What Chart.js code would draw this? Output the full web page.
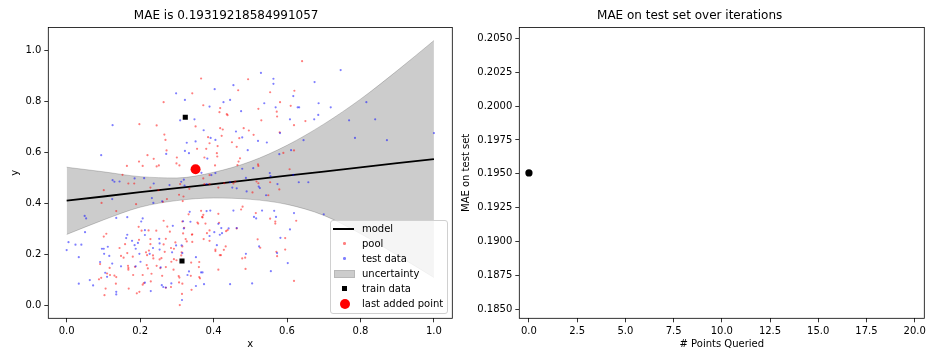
<!DOCTYPE html>
<html>
<head>
<meta charset="utf-8">
<script src="https://cdn.jsdelivr.net/npm/chart.js@4.4.1/dist/chart.umd.min.js"></script>
<style>
    html, body { margin: 0; padding: 0; background: #fff; }
    #wrap { position: relative; width: 936px; height: 360px; overflow: hidden; }
    canvas { position: absolute; top: 0; }
    #leftChart { left: 0; }
    #rightChart { left: 455px; }
    #legend {
        position: absolute; left: 330px; top: 220px; width: 116px; height: 92px;
        background: rgba(255, 255, 255, 0.8); border: 1px solid #d0d0d0; border-radius: 3px;
        font: 10px "DejaVu Sans", sans-serif; color: #000;
    }
    #legend .row { position: absolute; left: 0; height: 15px; width: 116px; line-height: 15px; }
    #legend .row span.txt { position: absolute; left: 31px; top: 0; white-space: nowrap; }
    #legend .h { position: absolute; }
</style>
</head>
<body>
<div id="wrap">
    <canvas id="leftChart" width="468" height="360"></canvas>
    <canvas id="rightChart" width="481" height="360"></canvas>
    <div id="legend"></div>
</div>
<script>
const FONT = '"DejaVu Sans", sans-serif';

// left panel: GP model on x in [0, 1]
const gridX = [0, 0.1, 0.2, 0.3, 0.4, 0.5, 0.6, 0.7, 0.8, 0.9, 1.0];
const modelY = [0.410, 0.426, 0.443, 0.459, 0.475, 0.491, 0.508, 0.524, 0.540, 0.557, 0.573];
const bandUpper = [0.541, 0.523, 0.504, 0.499, 0.521, 0.563, 0.627, 0.710, 0.808, 0.920, 1.038];
const bandLower = [0.277, 0.334, 0.384, 0.410, 0.420, 0.415, 0.395, 0.352, 0.280, 0.196, 0.108];

const poolXY = [
    [0.641,0.957],[0.366,0.889],[0.494,0.886],[0.467,0.843],[0.342,0.831],[0.554,0.835],[0.620,0.841],[0.264,0.796],
    [0.372,0.784],[0.581,0.796],[0.610,0.782],[0.522,0.770],[0.418,0.773],[0.436,0.749],[0.438,0.745],[0.416,0.757],
    [0.572,0.759],[0.573,0.740],[0.650,0.722],[0.619,0.706],[0.530,0.725],[0.198,0.710],[0.245,0.705],[0.351,0.701],
    [0.418,0.694],[0.482,0.694],[0.496,0.685],[0.580,0.678],[0.425,0.689],[0.266,0.669],[0.269,0.648],[0.385,0.659],
    [0.422,0.664],[0.470,0.655],[0.509,0.668],[0.389,0.635],[0.450,0.639],[0.463,0.621],[0.411,0.624],[0.409,0.596],
    [0.380,0.613],[0.355,0.613],[0.272,0.607],[0.220,0.588],[0.197,0.563],[0.207,0.546],[0.237,0.574],[0.245,0.544],
    [0.251,0.548],[0.300,0.579],[0.375,0.579],[0.410,0.583],[0.472,0.576],[0.590,0.597],[0.619,0.607],[0.164,0.546],
    [0.152,0.511],[0.299,0.556],[0.307,0.548],[0.404,0.548],[0.465,0.549],[0.468,0.563],[0.521,0.552],
    [0.168,0.477],[0.184,0.477],[0.101,0.451],[0.095,0.401],[0.135,0.369],[0.189,0.396],[0.228,0.461],[0.250,0.451],
    [0.306,0.433],[0.309,0.475],[0.334,0.456],[0.316,0.408],[0.318,0.426],[0.273,0.416],[0.262,0.405],[0.372,0.497],
    [0.389,0.510],[0.389,0.475],[0.375,0.475],[0.413,0.461],[0.429,0.478],[0.454,0.477],[0.459,0.485],[0.506,0.442],
    [0.517,0.485],[0.522,0.478],[0.554,0.482],[0.549,0.431],[0.522,0.546],[0.579,0.454],[0.607,0.533],[0.625,0.331],
    [0.091,0.161],[0.101,0.269],[0.108,0.280],[0.106,0.065],[0.103,0.039],[0.110,0.124],[0.117,0.146],[0.130,0.116],
    [0.135,0.110],[0.118,0.118],[0.134,0.084],[0.088,0.101],[0.094,0.107],[0.144,0.224],[0.148,0.193],[0.155,0.186],
    [0.159,0.239],[0.165,0.204],[0.167,0.154],[0.168,0.146],[0.168,0.139],[0.169,0.065],[0.181,0.118],[0.180,0.190],
    [0.186,0.150],[0.191,0.046],[0.198,0.052],[0.197,0.256],[0.196,0.307],[0.204,0.292],[0.207,0.118],[0.207,0.080],
    [0.210,0.086],[0.216,0.207],[0.219,0.196],[0.223,0.293],[0.218,0.157],[0.221,0.144],[0.224,0.214],[0.228,0.259],
    [0.228,0.239],[0.229,0.093],[0.231,0.123],[0.235,0.195],[0.236,0.183],[0.244,0.292],[0.245,0.154],[0.253,0.179],
    [0.255,0.145],[0.258,0.184],[0.260,0.115],[0.264,0.331],[0.264,0.238],[0.267,0.209],[0.270,0.260],[0.270,0.149],
    [0.270,0.068],[0.274,0.308],[0.281,0.288],[0.284,0.224],[0.285,0.170],[0.284,0.071],[0.291,0.139],[0.292,0.180],
    [0.292,0.221],[0.296,0.246],[0.299,0.176],[0.305,0.114],[0.307,0.108],[0.306,0.089],[0.312,0.195],[0.313,0.207],
    [0.315,0.230],[0.315,0.328],[0.320,0.303],[0.314,0.044],[0.315,0.084],[0.317,0.281],[0.324,0.259],[0.327,0.250],
    [0.308,0.000],[0.338,0.115],[0.340,0.060],[0.332,0.356],[0.341,0.276],[0.342,0.278],[0.342,0.248],[0.339,0.167],
    [0.356,0.324],[0.358,0.320],[0.360,0.149],[0.361,0.169],[0.361,0.110],[0.363,0.105],[0.366,0.370],[0.369,0.346],
    [0.372,0.354],[0.373,0.259],[0.370,0.344],[0.378,0.320],[0.382,0.282],[0.389,0.293],[0.389,0.252],[0.405,0.218],
    [0.405,0.212],[0.413,0.358],[0.415,0.323],[0.417,0.196],[0.420,0.196],[0.413,0.139],[0.428,0.217],[0.433,0.230],
    [0.434,0.290],[0.438,0.294],[0.463,0.301],[0.478,0.183],[0.487,0.142],[0.486,0.186],[0.475,0.375],[0.479,0.386],
    [0.515,0.361],[0.520,0.258],[0.527,0.225],[0.568,0.328],[0.568,0.320],[0.571,0.209],[0.573,0.192],[0.595,0.263],
    [0.595,0.218],[0.619,0.095],[0.554,0.339]
];

const testXY = [
    [0.746,0.922],[0.529,0.911],[0.563,0.888],[0.563,0.868],[0.675,0.875],[0.454,0.863],[0.403,0.847],[0.298,0.831],
    [0.617,0.820],[0.322,0.805],[0.445,0.805],[0.427,0.796],[0.389,0.779],[0.538,0.792],[0.629,0.776],[0.633,0.776],
    [0.686,0.792],[0.719,0.776],[0.816,0.796],[0.569,0.776],[0.475,0.761],[0.309,0.725],[0.348,0.729],[0.674,0.729],
    [0.840,0.729],[0.685,0.746],[0.608,0.729],[0.769,0.725],[0.125,0.706],[0.373,0.686],[0.581,0.675],[0.461,0.681],
    [1.000,0.675],[0.785,0.656],[0.872,0.647],[0.645,0.647],[0.392,0.656],[0.405,0.648],[0.478,0.658],[0.521,0.644],
    [0.545,0.638],[0.327,0.637],[0.351,0.642],[0.493,0.608],[0.322,0.605],[0.333,0.596],[0.271,0.593],[0.094,0.588],
    [0.383,0.575],[0.579,0.592],[0.611,0.608],
    [0.125,0.490],[0.130,0.484],[0.144,0.485],[0.185,0.497],[0.211,0.498],[0.124,0.416],[0.237,0.477],[0.280,0.471],
    [0.319,0.492],[0.321,0.469],[0.312,0.484],[0.232,0.420],[0.236,0.401],[0.260,0.407],[0.367,0.519],[0.405,0.518],
    [0.394,0.510],[0.381,0.475],[0.445,0.482],[0.478,0.535],[0.488,0.499],[0.508,0.537],[0.451,0.461],[0.463,0.458],
    [0.490,0.446],[0.523,0.465],[0.526,0.459],[0.543,0.431],[0.574,0.475],[0.553,0.518],[0.555,0.506],[0.632,0.482],
    [0.617,0.511],[0.658,0.482],[0.700,0.356],
    [0.000,0.216],[0.005,0.247],[0.024,0.237],[0.040,0.237],[0.033,0.188],[0.033,0.084],[0.050,0.286],[0.049,0.350],
    [0.053,0.340],[0.063,0.098],[0.072,0.077],[0.091,0.169],[0.096,0.221],[0.101,0.221],[0.102,0.201],[0.105,0.127],
    [0.110,0.111],[0.112,0.229],[0.116,0.193],[0.124,0.163],[0.135,0.052],[0.135,0.042],[0.135,0.342],[0.148,0.152],
    [0.162,0.263],[0.165,0.276],[0.165,0.345],[0.178,0.252],[0.185,0.235],[0.188,0.221],[0.188,0.152],[0.194,0.244],
    [0.198,0.201],[0.201,0.170],[0.203,0.328],[0.207,0.340],[0.213,0.294],[0.213,0.088],[0.213,0.275],[0.226,0.201],
    [0.235,0.224],[0.229,0.055],[0.252,0.260],[0.253,0.242],[0.253,0.218],[0.256,0.148],[0.259,0.078],[0.263,0.071],
    [0.270,0.069],[0.289,0.311],[0.287,0.207],[0.285,0.085],[0.298,0.234],[0.313,0.234],[0.315,0.204],[0.317,0.329],
    [0.319,0.301],[0.314,0.020],[0.333,0.132],[0.329,0.118],[0.335,0.366],[0.337,0.327],[0.352,0.188],[0.366,0.128],
    [0.370,0.128],[0.352,0.075],[0.374,0.082],[0.381,0.369],[0.389,0.271],[0.391,0.371],[0.402,0.286],[0.409,0.235],
    [0.413,0.319],[0.421,0.302],[0.423,0.282],[0.417,0.276],[0.441,0.301],[0.445,0.082],[0.454,0.371],[0.463,0.302],
    [0.488,0.201],[0.510,0.346],[0.516,0.340],[0.505,0.085],[0.524,0.230],[0.532,0.371],[0.565,0.370],[0.570,0.346],
    [0.573,0.204],[0.582,0.264],[0.602,0.165],[0.608,0.297],[0.619,0.361],[0.556,0.133]
];

const trainXY = [[0.323, 0.737], [0.314, 0.173]];
const lastAddedXY = [[0.351, 0.533]];

const leftXTicks = [0, 0.2, 0.4, 0.6, 0.8, 1.0];
const leftYTicks = [0, 0.2, 0.4, 0.6, 0.8, 1.0];

// right panel: MAE history
const iterations = [0];
const maeHistory = [0.19507];
const rightXTicks = [0, 2.5, 5, 7.5, 10, 12.5, 15, 17.5, 20];
const rightYTicks = [0.185, 0.1875, 0.19, 0.1925, 0.195, 0.1975, 0.2, 0.2025, 0.205];

const toPts = arr => arr.map(p => ({ x: p[0], y: p[1] }));
const onGrid = ys => ys.map((y, i) => ({ x: gridX[i], y }));

// matplotlib-style box around the axes
const framePlugin = {
    id: 'frame',
    afterDatasetsDraw(chart) {
        const { ctx, chartArea: a } = chart;
        ctx.save();
        ctx.strokeStyle = '#000';
        ctx.lineWidth = 0.8;
        ctx.strokeRect(a.left, a.top, a.right - a.left, a.bottom - a.top);
        ctx.restore();
    }
};

function makeAxis(min, max, ticks, digits, label, fit) {
    return {
        type: 'linear',
        min, max,
        afterBuildTicks: s => { s.ticks = ticks.map(v => ({ value: v })); },
        afterFit: fit,
        ticks: {
            color: '#000', font: { family: FONT, size: 10 }, padding: 3,
            autoSkip: false, maxRotation: 0,
            callback: v => Number(v).toFixed(digits)
        },
        grid: { display: true, drawOnChartArea: false, drawTicks: true, tickLength: 4, color: '#000', lineWidth: 0.8 },
        border: { display: false },
        title: { display: true, text: label, color: '#000', font: { family: FONT, size: 10 }, padding: { top: 9, bottom: 10 } }
    };
}

function titleOpts(text) {
    return {
        display: true, text, color: '#000',
        font: { family: FONT, size: 12, weight: 'normal' },
        padding: { top: 9, bottom: 4 }
    };
}

const bandStyle = {
    showLine: true, pointRadius: 0, borderWidth: 1,
    borderColor: 'rgba(0,0,0,0.18)', cubicInterpolationMode: 'monotone'
};

// eslint-disable-next-line no-undef
const leftChart = new Chart(document.getElementById('leftChart'), {
    type: 'scatter',
    data: {
        datasets: [
            { label: 'uncertainty', data: onGrid(bandUpper), ...bandStyle, fill: '+1', backgroundColor: 'rgba(0,0,0,0.2)', order: 7 },
            { label: '_band_lower', data: onGrid(bandLower), ...bandStyle, fill: false, order: 6 },
            { label: 'model', data: onGrid(modelY), showLine: true, pointRadius: 0, borderColor: '#000', borderWidth: 1.8, order: 5 },
            { label: 'pool', data: toPts(poolXY), pointRadius: 1.1, borderWidth: 0, backgroundColor: 'rgba(255,0,0,0.5)', order: 4 },
            { label: 'test data', data: toPts(testXY), pointRadius: 1.1, borderWidth: 0, backgroundColor: 'rgba(0,0,255,0.5)', order: 3 },
            { label: 'train data', data: toPts(trainXY), pointStyle: 'rect', pointRadius: 3.6, borderWidth: 0, backgroundColor: '#000', order: 2 },
            { label: 'last added point', data: toPts(lastAddedXY), pointRadius: 5, borderWidth: 0, backgroundColor: '#ff0000', order: 1 }
        ]
    },
    options: {
        responsive: false,
        animation: false,
        events: [],
        layout: { padding: { left: 0, right: 15.7, top: 0, bottom: 0 } },
        scales: {
            x: makeAxis(-0.05, 1.05, leftXTicks, 1, 'x', s => { s.height = 41.7; }),
            y: makeAxis(-0.0518, 1.0895, leftYTicks, 1, 'y', s => { s.width = 48.3; })
        },
        plugins: {
            legend: { display: false },
            tooltip: { enabled: false },
            title: titleOpts('MAE is 0.19319218584991057')
        }
    },
    plugins: [framePlugin]
});

// eslint-disable-next-line no-undef
new Chart(document.getElementById('rightChart'), {
    type: 'scatter',
    data: {
        datasets: [{
            label: 'MAE',
            data: iterations.map((x, i) => ({ x, y: maeHistory[i] })),
            pointRadius: 3.6, borderWidth: 0, backgroundColor: '#000'
        }]
    },
    options: {
        responsive: false,
        animation: false,
        events: [],
        layout: { padding: { left: 0, right: 11.7, top: 0, bottom: 0 } },
        scales: {
            x: makeAxis(-0.5, 20.5, rightXTicks, 1, '# Points Queried', s => { s.height = 41.7; }),
            y: (() => {
                const ax = makeAxis(0.18434, 0.20581, rightYTicks, 4, 'MAE on test set', s => { s.width = 64.3; });
                ax.title.padding = { top: 5.7, bottom: 0 };
                return ax;
            })()
        },
        plugins: {
            legend: { display: false },
            tooltip: { enabled: false },
            title: titleOpts('MAE on test set over iterations')
        }
    },
    plugins: [framePlugin]
});

// legend box inside the left axes, lower right
const handles = {
    'model': '<span class="h" style="left:2px;top:6.5px;width:21px;height:2px;background:#000"></span>',
    'pool': '<span class="h" style="left:12px;top:6px;width:2.5px;height:2.5px;border-radius:50%;background:rgba(255,0,0,0.5)"></span>',
    'test data': '<span class="h" style="left:12px;top:6px;width:2.5px;height:2.5px;border-radius:50%;background:rgba(0,0,255,0.5)"></span>',
    'uncertainty': '<span class="h" style="left:3px;top:4px;width:19px;height:6px;background:#cccccc;border:1px solid #b8b8b8"></span>',
    'train data': '<span class="h" style="left:11px;top:5px;width:5px;height:5px;background:#000"></span>',
    'last added point': '<span class="h" style="left:8.5px;top:2.5px;width:10px;height:10px;border-radius:50%;background:#ff0000"></span>'
};
const legendOrder = ['model', 'pool', 'test data', 'uncertainty', 'train data', 'last added point'];
const labels = leftChart.data.datasets.map(d => d.label);
document.getElementById('legend').innerHTML = legendOrder
    .filter(l => labels.includes(l))
    .map((l, i) => `<div class="row" style="top:${i * 15}px">${handles[l]}<span class="txt">${l}</span></div>`)
    .join('');
</script>
</body>
</html>
